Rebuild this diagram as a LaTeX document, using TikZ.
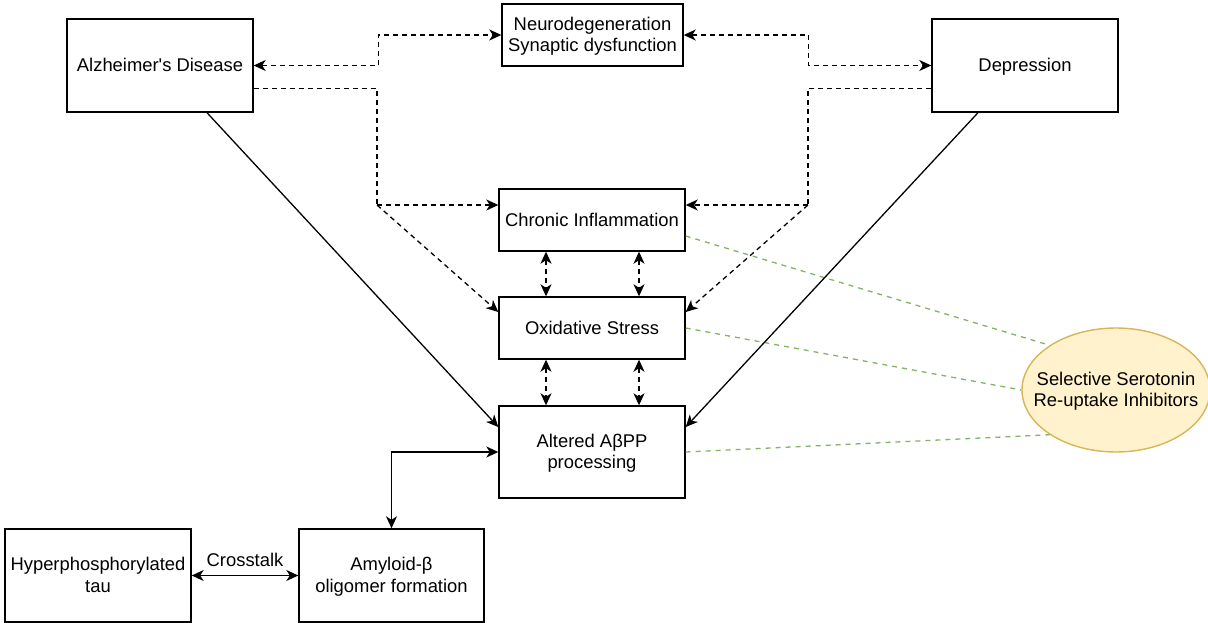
\documentclass[tikz,border=0pt]{standalone}
\usepackage{fontspec}
\setmainfont{Liberation Sans}[Ligatures=TeXOff]
\usetikzlibrary{arrows.meta,shapes.geometric,calc}
\definecolor{ssrifill}{HTML}{FFF2CC}
\definecolor{ssridraw}{HTML}{D6B656}
\definecolor{greenline}{HTML}{82B366}
\newcommand\lstr{\rule[-4pt]{0pt}{20pt}}
\newcommand\nofixskip{\lineskiplimit=-100pt\relax}
\begin{document}
\begin{tikzpicture}[x=1pt,y=-1pt,
  every node/.style={font={\fontsize{18.4}{21.7}\selectfont\nofixskip}},
  box/.style={draw=black,line width=1.4pt,align=center,inner sep=0pt,rectangle},
  arr/.style={line width=1.3pt,>={Stealth[length=12pt,width=11pt,inset=3.5pt]}},
  dsh/.style={arr,dash pattern=on 5pt off 4pt},
  grn/.style={draw=greenline,line width=1.3pt,dash pattern=on 5pt off 5pt}]
\useasboundingbox (0,0) rectangle (1208,623);
% nodes
\node[box,minimum width=186,minimum height=93] (ad) at (160,65.5) {\lstr Alzheimer's Disease};
\node[box,minimum width=181,minimum height=62] (neuro) at (592.5,35) {\lstr Neurodegeneration\\\lstr Synaptic dysfunction};
\node[box,minimum width=186,minimum height=93] (dep) at (1025,65.5) {\lstr Depression};
\node[box,minimum width=186,minimum height=62] (chr) at (592,220) {\lstr Chronic Inflammation};
\node[box,minimum width=186,minimum height=62] (oxi) at (592,328) {\lstr Oxidative Stress};
\node[box,minimum width=186,minimum height=92] (alt) at (592,452) {\lstr Altered AβPP\\\lstr processing};
\node[box,minimum width=186,minimum height=93] (hyp) at (98,575.5) {\lstr Hyperphosphorylated\\\lstr tau};
\node[box,minimum width=185,minimum height=93] (amy) at (391.5,575.5) {\lstr Amyloid-β\\\lstr oligomer formation};
\node[ellipse,draw=ssridraw,fill=ssrifill,line width=1.4pt,minimum width=188,minimum height=124,inner sep=0pt,
  label={[align=center,inner sep=0pt]center:\lstr Selective Serotonin\\\lstr Re-uptake Inhibitors}] (ssri) at (1116,390) {};
% green dashed links
\draw[grn] ($(chr.east)+(0,16)$) -- (ssri.146);
\draw[grn] (oxi.east) -- (ssri.west);
\draw[grn] (alt.east) -- (ssri.214);
% top dashed connectors
\draw[dsh,<->] (ad.east) -- ++(125,0) |- (neuro.west);
\draw[dsh,<->] (neuro.east) -- ++(125,0) |- (dep.west);
\coordinate (lj) at (377,205);
\coordinate (rj) at (808,205);
\draw[dsh] ($(ad.east)+(0,23)$) -| (lj);
\draw[dsh,->] (lj) -- ($(chr.west)+(0,-15)$);
\draw[dsh,->] (lj) -- ($(oxi.west)+(0,-16)$);
\draw[dsh] ($(dep.west)+(0,23)$) -| (rj);
\draw[dsh,->] (rj) -- ($(chr.east)+(0,-15)$);
\draw[dsh,->] (rj) -- ($(oxi.east)+(0,-16)$);
% vertical dashed double arrows
\draw[dsh,<->] ($(chr.south)+(-46,0)$) -- ($(oxi.north)+(-46,0)$);
\draw[dsh,<->] ($(chr.south)+(47,0)$) -- ($(oxi.north)+(47,0)$);
\draw[dsh,<->] ($(oxi.south)+(-46,0)$) -- ($(alt.north)+(-46,0)$);
\draw[dsh,<->] ($(oxi.south)+(47,0)$) -- ($(alt.north)+(47,0)$);
% solid connectors
\draw[arr,->] ($(ad.south)+(47,0)$) -- ($(alt.west)+(0,-25)$);
\draw[arr,->] ($(dep.south)+(-47,0)$) -- ($(alt.east)+(0,-25)$);
\draw[arr,<->] (alt.west) -| (amy.north);
\draw[arr,<->] (hyp.east) -- node[midway,yshift=15pt,inner sep=0pt] (ct) {\lstr Crosstalk} (amy.west);
\end{tikzpicture}
\end{document}
